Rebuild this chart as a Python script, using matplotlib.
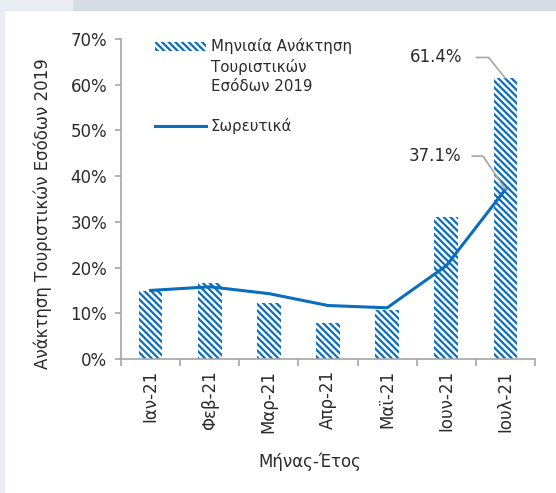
import numpy as np
import matplotlib
matplotlib.use("Agg")
from matplotlib import pyplot as plt
from matplotlib.patches import Rectangle
from matplotlib.legend_handler import HandlerPatch

plt.rcParams['font.family'] = ['DejaVu Sans']
plt.rcParams['hatch.linewidth'] = 1.6

# data
months = ['Ιαν-21', 'Φεβ-21', 'Μαρ-21', 'Απρ-21', 'Μαϊ-21', 'Ιουν-21', 'Ιουλ-21']
monthly = [14.8, 16.6, 12.3, 7.9, 10.8, 31.0, 61.4]
cumulative = [15.0, 15.8, 14.3, 11.7, 11.2, 20.4, 37.1]
yticks = [0, 10, 20, 30, 40, 50, 60, 70]

BLUE = '#0a6ebd'
GREY = '#a6a6a6'
TXT = '#2b2b2b'
FS = 12


# legend patch that sits next to the first line of a multi-line label
class TopPatch(HandlerPatch):
    def __init__(self, lift, **kw):
        super().__init__(**kw)
        self.lift = lift

    def create_artists(self, legend, orig_handle, xdescent, ydescent, width, height,
                       fontsize, trans):
        p = Rectangle((-xdescent, -ydescent + self.lift), width, height)
        self.update_prop(p, orig_handle, legend)
        p.set_transform(trans)
        return [p]


fig = plt.figure(figsize=(5.56, 4.93), dpi=100)
# page decoration behind the chart
fig.patches.append(Rectangle((0, 1 - 10 / 493), 1, 10 / 493, transform=fig.transFigure,
                             color='#d6dce4', zorder=0))
fig.patches.append(Rectangle((0, 1 - 10 / 493), 72 / 556, 10 / 493, transform=fig.transFigure,
                             color='#e9edf3', zorder=0))
fig.patches.append(Rectangle((0, 0), 4 / 556, 1, transform=fig.transFigure,
                             color='#e9edf3', zorder=0))

ax = fig.add_axes([121 / 556, 1 - 359 / 493, (535 - 121) / 556, (359 - 39) / 493])

x = np.arange(len(months))
bars = ax.bar(x, monthly, width=0.4, color='white', edgecolor=BLUE, linewidth=0,
              hatch='\\' * 5, zorder=2)
line, = ax.plot(x, cumulative, color=BLUE, lw=2.2, zorder=3)

ax.set_xlim(-0.5, len(months) - 0.5)
ax.set_ylim(0, 70)
ax.set_yticks(yticks)
ax.set_yticklabels([f'{t}%' for t in yticks])
ax.set_xticks(x)
ax.set_xticklabels(months, rotation=90)
ax.set_xticks(np.arange(len(months) + 1) - 0.5, minor=True)

for s in ['top', 'right']:
    ax.spines[s].set_visible(False)
for s in ['left', 'bottom']:
    ax.spines[s].set_color(GREY)
    ax.spines[s].set_linewidth(1.2)

ax.tick_params(axis='y', colors=GREY, labelcolor=TXT, labelsize=FS, length=4, width=1.2, pad=6)
ax.tick_params(axis='x', which='major', length=0, labelcolor=TXT, labelsize=FS, pad=8)
ax.tick_params(axis='x', which='minor', length=5, width=1.2, color=GREY)

ax.set_ylabel('Ανάκτηση Τουριστικών Εσόδων 2019', fontsize=FS, color=TXT)
ax.yaxis.set_label_coords(-0.166, 0.453)
ax.set_xlabel('Μήνας-Έτος', fontsize=FS, color=TXT)
ax.xaxis.set_label_coords(0.456, -0.292)

# value call-outs on the last month
ax.annotate(f'{monthly[-1]:.1f}%', xy=(x[-1], monthly[-1]), xytext=(-31, 15),
            textcoords='offset points', ha='right', va='center', fontsize=FS, color=TXT,
            arrowprops=dict(arrowstyle='-', color=GREY, lw=1.2, shrinkA=8, shrinkB=0,
                            relpos=(1, 0.5),
                            connectionstyle='angle,angleA=0,angleB=129,rad=0'))
ax.annotate(f'{cumulative[-1]:.1f}%', xy=(x[-1], cumulative[-1]), xytext=(-32, 24),
            textcoords='offset points', ha='right', va='center', fontsize=FS, color=TXT,
            arrowprops=dict(arrowstyle='-', color=GREY, lw=1.2, shrinkA=6, shrinkB=0,
                            relpos=(1, 0.5),
                            connectionstyle='angle,angleA=0,angleB=124,rad=0'))

bar_handle = bars.patches[0]
leg = ax.legend([bar_handle, line], ['Μηνιαία Ανάκτηση\nΤουριστικών\nΕσόδων 2019', 'Σωρευτικά'],
                loc='upper left', bbox_to_anchor=(0.05, 1.045), frameon=False, fontsize=10.8,
                handlelength=3.4, handleheight=0.45, labelspacing=1.6, handletextpad=0.3,
                labelcolor=TXT, handler_map={bar_handle: TopPatch(lift=14.5)})
for t in leg.get_texts():
    t.set_linespacing(1.35)

fig.savefig('out.png', dpi=100)
